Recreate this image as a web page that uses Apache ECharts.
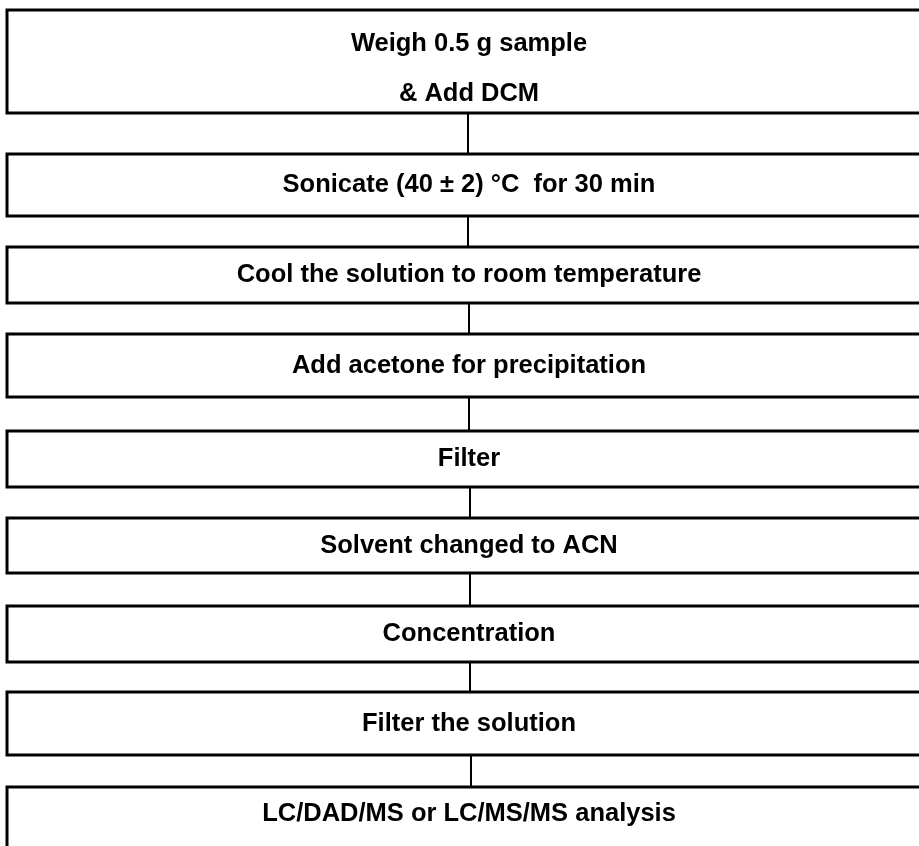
<!DOCTYPE html>
<html lang="en" style="height: 100%">
<head>
  <meta charset="utf-8">
  <script src="https://cdn.jsdelivr.net/npm/echarts@6/dist/echarts.min.js"></script>
  <style>
    body { height: 100%; margin: 0; background: #fff; }
    #flow { width: 919px; height: 846px; }
  </style>
</head>
<body>
  <div id="flow"></div>
  <script>
    // procedure steps, top to bottom
    var steps = [
      'Weigh 0.5 g sample\n& Add DCM',
      'Sonicate (40 \u00b1 2) \u00b0C  for 30 min',
      'Cool the solution to room temperature',
      'Add acetone for precipitation',
      'Filter',
      'Solvent changed to ACN',
      'Concentration',
      'Filter the solution',
      'LC/DAD/MS or LC/MS/MS analysis'
    ];
    // box extents in chart units (y axis runs downward)
    var boxTop    = [10, 154, 247, 334, 431, 518, 606, 692, 787];
    var boxBottom = [113, 216, 303, 397, 487, 573, 662, 755, 840];
    // x position of the connector under each box
    var linkX = [468, 468, 469, 469, 470, 470, 470, 471];

    var boxLeft = 7, boxRight = 940, textX = 469;

    var boxData = steps.map(function (s, i) { return [boxTop[i], boxBottom[i], i]; });
    var linkData = linkX.map(function (x, i) { return [x, boxBottom[i], boxTop[i + 1]]; });

    var chart = echarts.init(document.getElementById('flow'));
    chart.setOption({
      animation: false,
      grid: { left: 0, right: 0, top: 0, bottom: 0 },
      xAxis: { type: 'value', min: 0, max: 919, show: false },
      yAxis: { type: 'value', min: 0, max: 846, inverse: true, show: false },
      series: [
        {
          type: 'custom',
          clip: false,
          data: boxData,
          renderItem: function (params, api) {
            var i = api.value(2);
            var p0 = api.coord([boxLeft, api.value(0)]);
            var p1 = api.coord([boxRight, api.value(1)]);
            var h = p1[1] - p0[1];
            var last = i === steps.length - 1;
            var multi = steps[i].indexOf('\n') >= 0;
            return {
              type: 'group',
              children: [
                {
                  type: 'rect',
                  // last box runs off the bottom of the page
                  shape: { x: p0[0], y: p0[1], width: p1[0] - p0[0], height: last ? h + 40 : h },
                  style: { fill: '#fff', stroke: '#000', lineWidth: 3 }
                },
                {
                  type: 'text',
                  x: api.coord([textX, 0])[0],
                  y: p0[1] + h / 2 + (multi ? 7 : 0),
                  style: {
                    text: steps[i],
                    fill: '#000',
                    font: 'bold 25.5px "Liberation Sans", Arial, sans-serif',
                    align: 'center',
                    verticalAlign: 'middle',
                    lineHeight: 50
                  }
                }
              ]
            };
          }
        },
        {
          type: 'custom',
          clip: false,
          data: linkData,
          renderItem: function (params, api) {
            var a = api.coord([api.value(0), api.value(1)]);
            var b = api.coord([api.value(0), api.value(2)]);
            return {
              type: 'line',
              shape: { x1: a[0], y1: a[1], x2: b[0], y2: b[1] },
              style: { stroke: '#000', lineWidth: 2 }
            };
          }
        }
      ]
    });
    window.addEventListener('resize', chart.resize);
  </script>
</body>
</html>
